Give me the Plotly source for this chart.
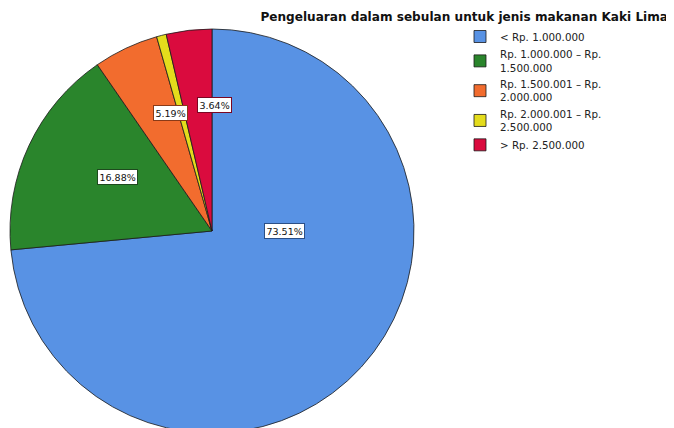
import math
import plotly.graph_objects as go

categories = ["< Rp. 1.000.000", "Rp. 1.000.000 – Rp.<br>1.500.000", "Rp. 1.500.001 – Rp.<br>2.000.000",
              "Rp. 2.000.001 – Rp.<br>2.500.000", "> Rp. 2.500.000"]
values = [73.51, 16.88, 5.19, 0.78, 3.64]
colors = ["#5892E4", "#2A852C", "#F26C2E", "#E4DC1C", "#DA0B3E"]
label_border = ["#2B4F86", "#1E4A1E", "#8A3A17", "#807A10", "#7A0622"]
# label placement: (angle override or None for bisector, radial fraction); None = no label
label_place = [(90, 0.36), (None, 0.63), (None, 0.69), None, (None, 0.67)]

# page is rendered with an 8px body margin; figure coordinates are page - 8
OFF = 8
W, H = 674 - OFF, 425
T, B = 21, 0
R = (H - T - B) / 2
CX = 212 - OFF
CY = T + R

fig = go.Figure(go.Pie(
    labels=categories, values=values, sort=False, direction="clockwise", rotation=0,
    marker=dict(colors=colors, line=dict(color="#1a1a1a", width=0.8)),
    textinfo="none", hoverinfo="label+percent",
    domain=dict(x=[0, 2 * CX / W], y=[0, 1]),
))

total = sum(values)
cum = 0
for v, place, bc in zip(values, label_place, label_border):
    start = cum
    cum += v
    if place is None:
        continue
    ang, frac = place
    if ang is None:
        ang = (start + v / 2) / total * 360
    a = math.radians(ang)
    px = CX + frac * R * math.sin(a)
    py = CY - frac * R * math.cos(a)
    fig.add_annotation(
        x=px / W, y=(H - B - py) / (H - T - B), xref="paper", yref="paper",
        text=f"{v / total * 100:.2f}%", showarrow=False,
        font=dict(family="DejaVu Sans", size=9.5, color="#111"),
        bgcolor="white", bordercolor=bc, borderwidth=1, borderpad=1.5,
    )

fig.update_layout(
    width=W, height=H,
    margin=dict(l=0, r=0, t=T, b=B),
    paper_bgcolor="white", plot_bgcolor="white",
    title=dict(text="<b>Pengeluaran dalam sebulan untuk jenis makanan Kaki Lima</b>",
               x=(668 - OFF) / W, xanchor="right", xref="container",
               y=1 - (17 - OFF) / H, yanchor="middle", yref="container",
               font=dict(family="DejaVu Sans", size=12.1, color="#111")),
    legend=dict(x=(460 - OFF) / W, xanchor="left", y=(H - (22 - OFF)) / (H - T - B), yanchor="top",
                font=dict(family="DejaVu Sans", size=10.3, color="#222"),
                tracegroupgap=0, itemclick=False, bgcolor="rgba(0,0,0,0)"),
    showlegend=True,
)

fig.write_html("out.html")
